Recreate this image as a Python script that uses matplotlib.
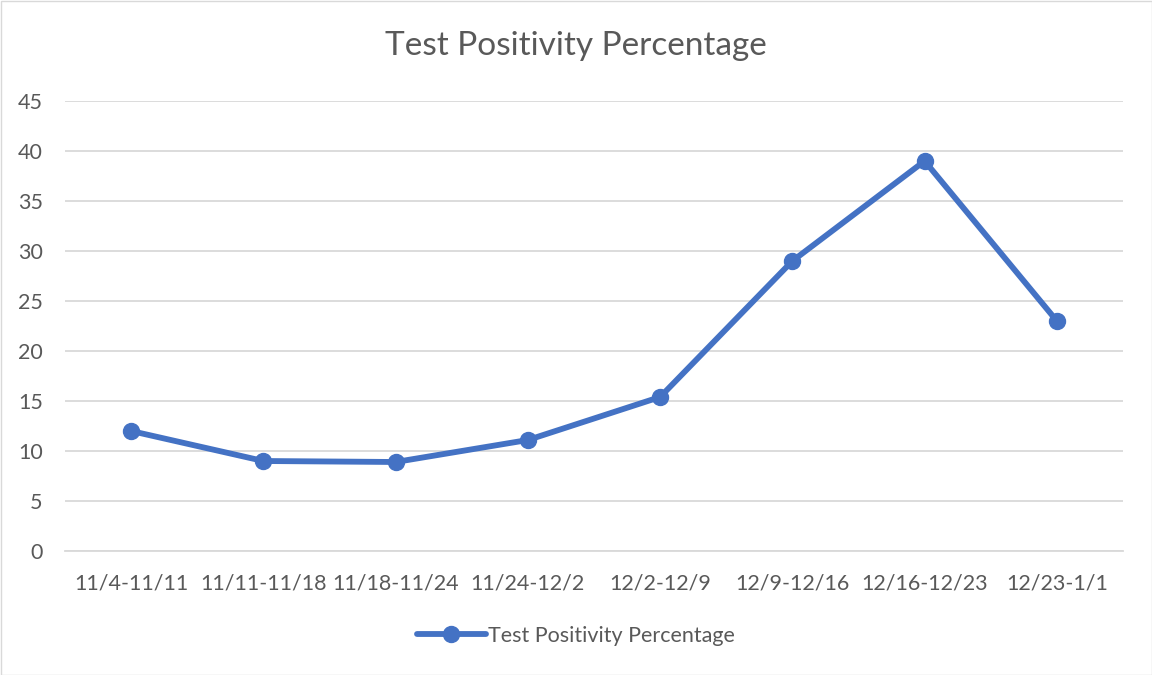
import matplotlib
matplotlib.use('Agg')
import matplotlib.pyplot as plt
from matplotlib.patches import Rectangle

weeks = ['11/4-11/11', '11/11-11/18', '11/18-11/24', '11/24-12/2',
         '12/2-12/9', '12/9-12/16', '12/16-12/23', '12/23-1/1']
positivity = [12.0, 9.0, 8.9, 11.1, 15.4, 29.0, 39.0, 23.0]
y_ticks = [0, 5, 10, 15, 20, 25, 30, 35, 40, 45]

plt.rcParams['font.family'] = ['Lato', 'DejaVu Sans']
grey = '#595959'
blue = '#4472C4'

fig = plt.figure(figsize=(11.52, 6.75), dpi=100)
ax = fig.add_axes([65/1152, 1 - 551/675, (1123 - 65)/1152, 450/675])

x = list(range(len(weeks)))
ax.plot(x, positivity, color=blue, linewidth=4.2, marker='o', markersize=11.5,
        label='Test Positivity Percentage', solid_capstyle='round')

ax.set_xlim(-0.5, len(weeks) - 0.5)
ax.set_ylim(0, 45)
ax.set_yticks(y_ticks)
ax.set_xticks(x)
ax.set_xticklabels(weeks)
ax.grid(axis='y', color='#D9D9D9', linewidth=1.3)
ax.set_axisbelow(True)
for s in ['top', 'right', 'left']:
    ax.spines[s].set_visible(False)
ax.spines['bottom'].set_color('#D9D9D9')
ax.spines['bottom'].set_linewidth(1.3)
ax.tick_params(axis='both', length=0, labelsize=15.5, colors=grey)
ax.tick_params(axis='x', pad=16)
ax.tick_params(axis='y', pad=16)

fig.text(0.5, 1 - 46/675, 'Test Positivity Percentage', ha='center', va='center',
         fontsize=24, color=grey)

leg = fig.legend(loc='center', bbox_to_anchor=(0.5, 1 - 636/675), frameon=False,
                 fontsize=15.5, handlelength=3.2, handletextpad=0.1)
for t in leg.get_texts():
    t.set_color(grey)

fig.patches.append(Rectangle((0.5/1152, 0.5/675), 1 - 1/1152, 1 - 1/675,
                             transform=fig.transFigure, fill=False,
                             edgecolor='#D9D9D9', linewidth=1))

fig.savefig('out.png', dpi=100)
